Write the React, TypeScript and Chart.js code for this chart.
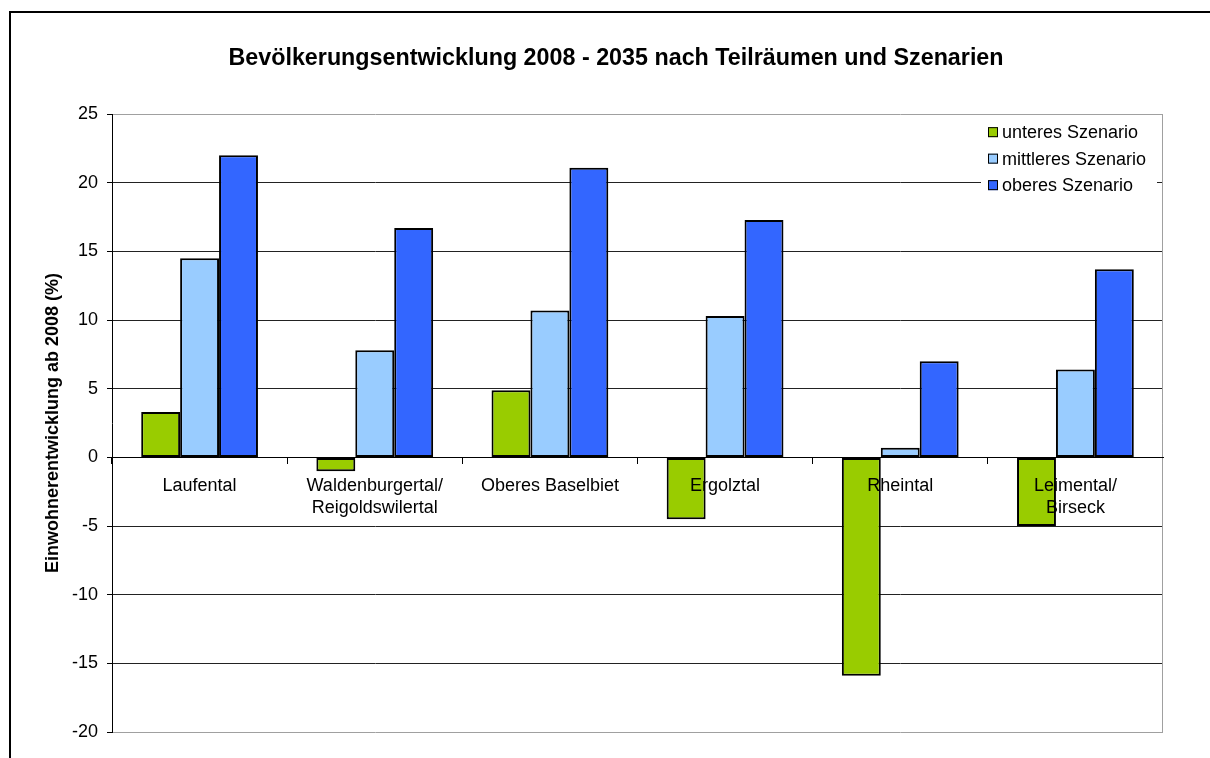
import React, { useEffect, useRef } from 'react';
import { Chart, registerables } from 'chart.js';

Chart.register(...registerables);

const categories: string[][] = [
  ['Laufental'],
  ['Waldenburgertal/', 'Reigoldswilertal'],
  ['Oberes Baselbiet'],
  ['Ergolztal'],
  ['Rheintal'],
  ['Leimental/', 'Birseck'],
];
const seriesNames = ['unteres Szenario', 'mittleres Szenario', 'oberes Szenario'];
const unteres = [3.3, -1.0, 4.9, -4.5, -15.9, -5.0];
const mittleres = [14.5, 7.8, 10.7, 10.3, 0.7, 6.4];
const oberes = [22.0, 16.7, 21.1, 17.3, 7.0, 13.7];
const seriesColors = ['#99CC00', '#99CCFF', '#3366FF'];
const yMin = -20;
const yMax = 25;
const yStep = 5;
const chartTitle = 'Bevölkerungsentwicklung 2008 - 2035 nach Teilräumen und Szenarien';
const yTitle = 'Einwohnerentwicklung ab 2008 (%)';

const FONT = '"Liberation Sans", Arial, Helvetica, sans-serif';

const frameAndLegend = {
  id: 'frameAndLegend',
  beforeDatasetsDraw(chart: any) {
    const { ctx, chartArea } = chart;
    ctx.save();
    ctx.strokeStyle = '#a0a0a0';
    ctx.lineWidth = 1;
    ctx.beginPath();
    ctx.moveTo(chartArea.right - 0.5, chartArea.top);
    ctx.lineTo(chartArea.right - 0.5, chartArea.bottom);
    ctx.stroke();
    ctx.restore();
  },
  afterDraw(chart: any) {
    const { ctx, chartArea } = chart;
    ctx.save();
    const bgLeft = chartArea.right - 182;
    const bgTop = chartArea.top + 4;
    ctx.fillStyle = '#ffffff';
    ctx.fillRect(bgLeft, bgTop, 176, 82);
    ctx.font = `18px ${FONT}`;
    ctx.textBaseline = 'middle';
    ctx.textAlign = 'left';
    chart.data.datasets.forEach((ds: any, i: number) => {
      const cy = chartArea.top + 18 + i * 26.5;
      const bx = bgLeft + 7;
      ctx.fillStyle = ds.backgroundColor;
      ctx.fillRect(bx, cy - 5, 10, 10);
      ctx.strokeStyle = '#000';
      ctx.lineWidth = 1;
      ctx.strokeRect(bx + 0.5, cy - 4.5, 9, 9);
      ctx.fillStyle = '#000';
      ctx.fillText(ds.label, bx + 14, cy + 1);
    });
    ctx.restore();
  },
};

export default function App() {
  const canvasRef = useRef<HTMLCanvasElement | null>(null);

  useEffect(() => {
    const canvas = canvasRef.current;
    if (!canvas) return;
    Chart.defaults.font.family = FONT;
    const values = [unteres, mittleres, oberes];
    const chart = new Chart(canvas, {
      type: 'bar',
      data: {
        labels: categories,
        datasets: seriesNames.map((name, i) => ({
          label: name,
          data: values[i],
          backgroundColor: seriesColors[i],
          borderColor: '#000000',
          borderWidth: 2,
          borderSkipped: false,
          barPercentage: 1,
          categoryPercentage: 3 / 4.5,
        })),
      },
      options: {
        responsive: false,
        animation: false,
        devicePixelRatio: 1,
        layout: { padding: { left: 0, right: 0, top: 0, bottom: 26 } },
        plugins: {
          legend: { display: false },
          tooltip: { enabled: false },
          title: {
            display: true,
            text: chartTitle,
            color: '#000',
            font: { size: 23.3, weight: 'bold', family: FONT },
            padding: { top: 45, bottom: 41.2 },
          },
        },
        scales: {
          x: {
            type: 'category',
            position: { y: 0 } as any,
            grid: {
              display: true,
              drawOnChartArea: false,
              drawTicks: true,
              tickLength: 6,
              tickColor: '#000',
              offset: true,
            },
            border: { display: true, color: '#000', width: 1, z: 1 },
            ticks: {
              z: 1,
              color: '#000',
              font: { size: 18, family: FONT },
              maxRotation: 0,
              minRotation: 0,
              autoSkip: false,
              padding: 12,
            },
          },
          y: {
            min: yMin,
            max: yMax,
            afterFit: (scale: any) => {
              scale.width = 112;
            },
            ticks: {
              stepSize: yStep,
              color: '#000',
              font: { size: 18, family: FONT },
              padding: 9,
            },
            grid: {
              color: (c: any) =>
                c.tick && (c.tick.value === yMax || c.tick.value === yMin) ? '#a0a0a0' : '#222',
              lineWidth: 1,
              tickLength: 5,
              tickColor: '#000',
              drawTicks: true,
            },
            border: { display: true, color: '#000', width: 1 },
            title: {
              display: true,
              text: yTitle,
              color: '#000',
              font: { size: 18, weight: 'bold', family: FONT },
              padding: { top: 42, bottom: 0 },
            },
          },
          yRightSpace: {
            type: 'linear',
            position: 'right',
            display: true,
            min: yMin,
            max: yMax,
            afterFit: (scale: any) => {
              scale.width = 69;
            },
            ticks: { display: false },
            grid: { display: false, drawTicks: false },
            border: { display: false },
          },
        },
      },
      plugins: [frameAndLegend],
    });
    return () => chart.destroy();
  }, []);

  return (
    <div
      style={{
        position: 'fixed',
        left: 0,
        top: 0,
        width: 1210,
        height: 758,
        overflow: 'hidden',
        background: '#fff',
      }}
    >
      <div
        style={{
          position: 'absolute',
          left: 9,
          top: 11,
          width: 1300,
          height: 1000,
          border: '2px solid #000',
          boxSizing: 'border-box',
        }}
      />
      <canvas
        ref={canvasRef}
        width={1232}
        height={758}
        style={{ position: 'absolute', left: 0, top: 0, width: 1232, height: 758 }}
      />
    </div>
  );
}
